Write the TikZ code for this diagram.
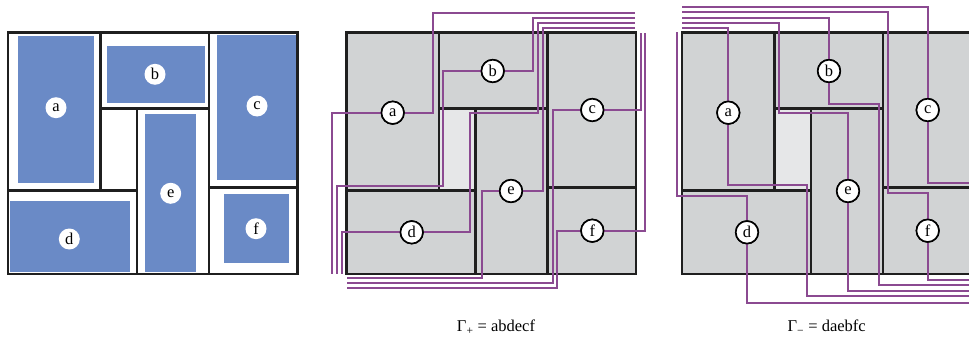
\documentclass[tikz,border=0pt]{standalone}
\usepackage{fontspec}
\setmainfont{Liberation Serif}
\definecolor{roomblue}{HTML}{6A8AC6}
\definecolor{cellgray}{HTML}{D1D3D4}
\definecolor{voidgray}{HTML}{E6E7E8}
\definecolor{wirepurple}{HTML}{8B4A91}
% cell borders of the floor plan, local coordinates (origin = top-left corner)
\newcommand\plancells{%
  \draw[frame] (0,0) rectangle (92.3,158)
               (92.3,0) rectangle (201,75.6)
               (201,0) rectangle (289.3,154.6)
               (0,158) rectangle (129,241.3)
               (129,75.6) rectangle (201,241.3)
               (201,154.6) rectangle (289.3,241.3);}
\begin{document}
\begin{tikzpicture}[x=1pt,y=-1pt,
  frame/.style={draw=black!88, line width=2.9pt},
  wire/.style={draw=wirepurple, line width=2pt},
  tag/.style={circle, draw=black, line width=1.6pt, fill=white, inner sep=0pt,
    minimum size=22.5pt, font=\fontsize{16.5}{16.5}\selectfont},
  plaintag/.style={circle, fill=white, inner sep=0pt, minimum size=21pt,
    font=\fontsize{16.5}{16.5}\selectfont},
  caption/.style={font=\fontsize{16.5}{16.5}\selectfont}]
\path[use as bounding box] (0,0) rectangle (969,345);
\clip (0,0) rectangle (969,345);

% ---------- left: rooms inside the cells ----------
\begin{scope}[shift={(8,32.7)}]
  \fill[roomblue] (10,3) rectangle (86,150);
  \fill[roomblue] (99,13.3) rectangle (196.7,70);
  \fill[roomblue] (209,2.3) rectangle (288,147.3);
  \fill[roomblue] (137,81.3) rectangle (187.7,239);
  \fill[roomblue] (2,168.3) rectangle (122,239.3);
  \fill[roomblue] (216,161.3) rectangle (280.7,230);
  \plancells
\end{scope}
\node[plaintag] (pa) at (56,107.7) {a};
\node[plaintag] (pb) at (155,74.3) {b};
\node[plaintag] (pc) at (257,106) {c};
\node[plaintag] (pd) at (69.3,239) {d};
\node[plaintag] (pe) at (170.7,193.3) {e};
\node[plaintag] (pf) at (256,228.7) {f};

% ---------- middle: positive sequence ----------
\begin{scope}[shift={(346.7,32.7)}]
  \fill[cellgray] (0,0) rectangle (289.3,241.3);
  \fill[voidgray] (92.3,75.6) rectangle (129,158);
  \plancells
\end{scope}
\node[tag] (qa) at (392.7,112.7) {a};
\node[tag] (qb) at (492.7,71) {b};
\node[tag] (qc) at (592.3,110) {c};
\node[tag] (qd) at (411.7,232.3) {d};
\node[tag] (qe) at (511,191) {e};
\node[tag] (qf) at (592.3,230.7) {f};

\coordinate (qaW) at (332.3,274);
\coordinate (qbW) at (337.3,274);
\coordinate (qdW) at (342,274);
\coordinate (qeS) at (346.7,278.3);
\coordinate (qcS) at (346.7,283.3);
\coordinate (qfS) at (346.7,288.3);
\coordinate (qaN) at (635,13.3);
\coordinate (qbN) at (635,18.3);
\coordinate (qdN) at (635,23.3);
\coordinate (qeN) at (635,28.3);
\coordinate (qcE) at (640.7,33.3);
\coordinate (qfE) at (645.3,33.3);

\draw[wire] (qa.west) -| (qaW);
\draw[wire] (qb.west) -| (443.3,185.5) -| (qbW);
\draw[wire] (qd.west) -| (qdW);
\draw[wire] (qe.west) -| (481.7,278.3) -- (qeS);
\draw[wire] (qc.west) -| (552.7,283.3) -- (qcS);
\draw[wire] (qf.west) -| (557.3,288.3) -- (qfS);
\draw[wire] (qa.east) -| (433.3,13.3) -- (qaN);
\draw[wire] (qb.east) -| (533.3,18.3) -- (qbN);
\draw[wire] (qd.east) -| (470,113) -| (538.3,23.3) -- (qdN);
\draw[wire] (qe.east) -| (542.7,28.3) -- (qeN);
\draw[wire] (qc.east) -| (qcE);
\draw[wire] (qf.east) -| (qfE);

% ---------- right: negative sequence ----------
\begin{scope}[shift={(682,32.7)}]
  \fill[cellgray] (0,0) rectangle (289.3,241.3);
  \fill[voidgray] (92.3,75.6) rectangle (129,158);
  \plancells
\end{scope}
\node[tag] (ra) at (728.3,112.7) {a};
\node[tag] (rb) at (829,71) {b};
\node[tag] (rc) at (927.7,110) {c};
\node[tag] (rd) at (747,232.3) {d};
\node[tag] (re) at (848,191) {e};
\node[tag] (rf) at (927.7,230.7) {f};

\coordinate (rcN) at (682,7);
\coordinate (rfN) at (682,12.4);
\coordinate (rbN) at (682,17.6);
\coordinate (reN) at (682,22.9);
\coordinate (raN) at (682,28.3);
\coordinate (rdN) at (676.7,32.3);
\coordinate (rcS) at (975,182.5);
\coordinate (rfS) at (975,279.8);
\coordinate (rbS) at (975,285);
\coordinate (reS) at (975,290.5);
\coordinate (raS) at (975,296);
\coordinate (rdS) at (975,302.5);

\draw[wire] (ra.north) |- (raN);
\draw[wire] (rb.north) |- (rbN);
\draw[wire] (rc.north) |- (rcN);
\draw[wire] (re.north) |- (779.3,113.3) |- (reN);
\draw[wire] (rf.north) |- (888.3,192.5) |- (rfN);
\draw[wire] (rd.north) |- (676.7,195.7) -- (rdN);
\draw[wire] (ra.south) |- (806.7,185.3) |- (raS);
\draw[wire] (rb.south) |- (878.5,104) |- (rbS);
\draw[wire] (rc.south) |- (rcS);
\draw[wire] (rd.south) |- (rdS);
\draw[wire] (re.south) |- (reS);
\draw[wire] (rf.south) |- (rfS);

% redraw the tags on top of the wires
\foreach \n/\t in {qa/a,qb/b,qc/c,qd/d,qe/e,qf/f,ra/a,rb/b,rc/c,rd/d,re/e,rf/f}
  \node[tag] at (\n) {\t};

% ---------- captions ----------
\node[caption] (gplus) at (496,327) {Γ\textsubscript{+} = abdecf};
\node[caption] (gminus) at (826.7,327) {Γ\textsubscript{−} = daebfc};
\end{tikzpicture}
\end{document}
